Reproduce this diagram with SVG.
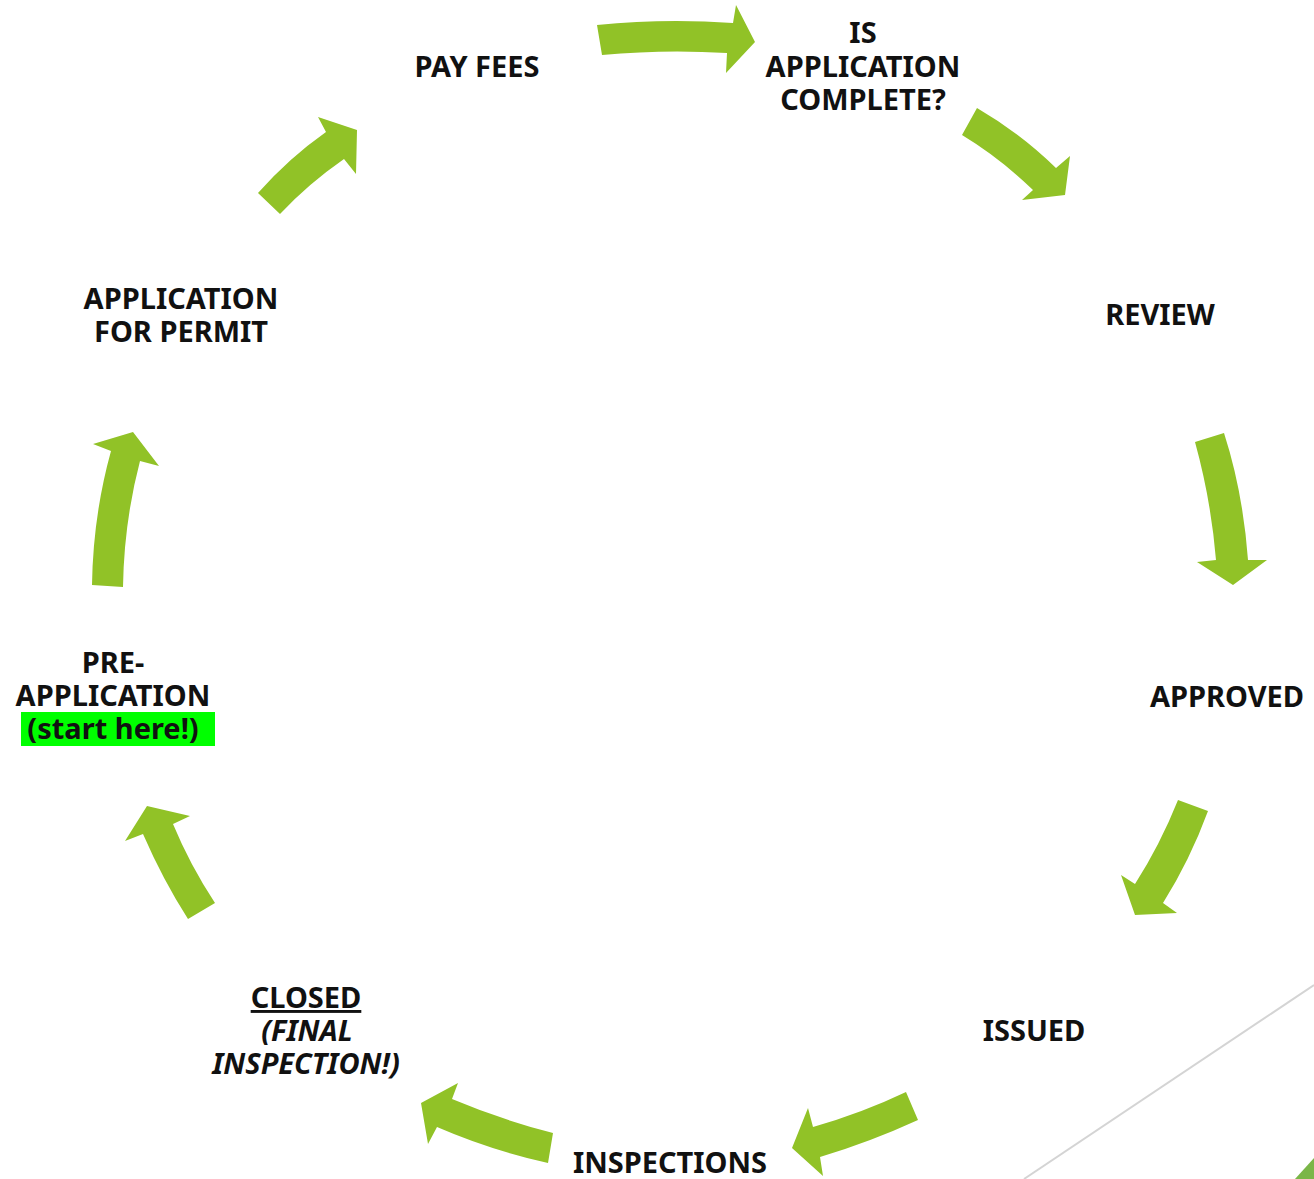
<svg xmlns="http://www.w3.org/2000/svg" width="1314" height="1179" viewBox="0 0 1314 1179">
<style>
.arr{fill:#91c227}
.t{font-family:"Noto Sans","Liberation Sans",sans-serif;font-weight:700;font-size:29px;fill:#111;text-anchor:middle}
.i{font-style:italic}
</style>
<rect width="1314" height="1179" fill="#fff"/>
<line x1="1024" y1="1179" x2="1314" y2="985" stroke="#d4d4d4" stroke-width="2"/>
<polygon points="1295,1179 1314,1158 1314,1179" fill="#7ab648"/>
<g id="connectors">
<path class="arr" d="M597,25 Q665,18 733,23 L736,5 L755,42 L726,73 L727,53 Q665,49 602,55 Z"/>
<path class="arr" d="M977,108 Q1020,133 1056,168 L1070,156 L1065,195 L1022,200 L1033,190 Q1000,158 962,135 Z"/>
<path class="arr" d="M1224,433 Q1243,492 1248,560 L1267,560 L1233,585 L1197,562 L1216,560 Q1211,500 1195,442 Z"/>
<path class="arr" d="M1208,811 Q1190,860 1163,903 L1177,913 L1135,915 L1121,875 L1135,884 Q1160,845 1178,800 Z"/>
<path class="arr" d="M918,1120 Q870,1142 820,1157 L823,1176 L792,1148 L808,1108 L813,1127 Q862,1113 906,1092 Z"/>
<path class="arr" d="M548,1163 Q490,1150 437,1127 L428,1144 L421,1103 L458,1083 L452,1099 Q502,1120 553,1133 Z"/>
<path class="arr" d="M188,919 Q163,880 143,834 L125,841 L147,806 L190,816 L173,824 Q190,865 215,903 Z"/>
<path class="arr" d="M92,585 Q93,516 111,451 L93,444 L133,432 L159,466 L140,461 Q124,522 123,587 Z"/>
<path class="arr" d="M258,193 Q289,158 326,132 L318,117 L357,130 L356,174 L344,159 Q308,184 280,214 Z"/>
</g>
<g id="pay-fees"><text class="t" x="477" y="77">PAY FEES</text></g>
<g id="is-complete"><text class="t" x="863" y="43">IS</text><text class="t" x="863" y="77">APPLICATION</text><text class="t" x="863" y="110">COMPLETE?</text></g>
<g id="review"><text class="t" x="1160" y="325">REVIEW</text></g>
<g id="approved"><text class="t" x="1227" y="707">APPROVED</text></g>
<g id="issued"><text class="t" x="1034" y="1041">ISSUED</text></g>
<g id="inspections"><text class="t" x="670" y="1173">INSPECTIONS</text></g>
<g id="closed"><text class="t" x="306" y="1008" text-decoration="underline">CLOSED</text><text class="t i" x="307" y="1041">(FINAL</text><text class="t i" x="306" y="1074">INSPECTION!)</text></g>
<g id="pre-application"><rect x="21" y="712" width="194" height="34" fill="#00ff00"/><text class="t" x="113" y="673">PRE-</text><text class="t" x="113" y="706">APPLICATION</text><text class="t" x="113" y="739">(start here!)</text></g>
<g id="application-permit"><text class="t" x="181" y="309">APPLICATION</text><text class="t" x="181" y="342">FOR PERMIT</text></g>
</svg>
